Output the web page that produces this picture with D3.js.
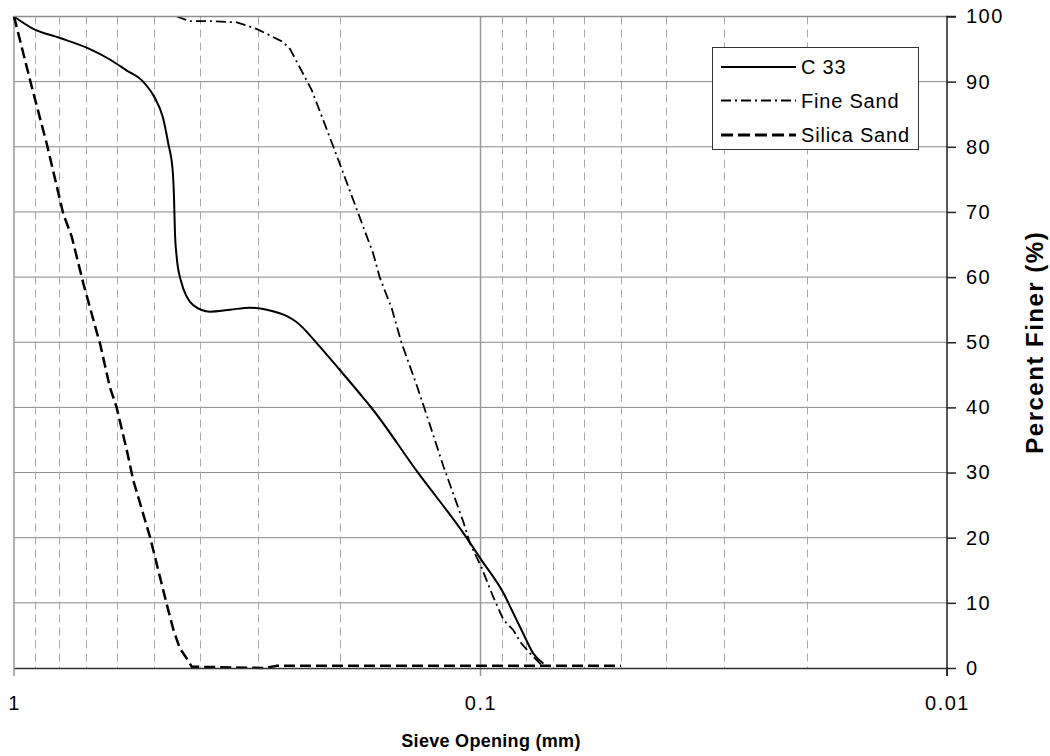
<!DOCTYPE html>
<html>
<head>
<meta charset="utf-8">
<script src="https://cdn.jsdelivr.net/npm/d3@7/dist/d3.min.js"></script>
<style>
  html, body { margin: 0; padding: 0; background: #fff; }
  svg { display: block; }
  text { font-family: "Liberation Sans", Arial, sans-serif; fill: #000; }
</style>
</head>
<body>
<svg id="chart" width="1050" height="756"></svg>
<script>
// Grain-size distribution: sieve opening (mm) vs percent finer (%)
const c33Sieve = [1, 0.909, 0.797, 0.693, 0.623, 0.573, 0.532, 0.5, 0.48, 0.467, 0.457, 0.454, 0.452, 0.448, 0.439, 0.413, 0.38, 0.344, 0.312, 0.287, 0.26, 0.248, 0.224, 0.2, 0.178, 0.172, 0.1359, 0.1088, 0.0996, 0.0893, 0.0857, 0.081, 0.0771, 0.0733];
const c33Finer = [100, 98.1, 96.7, 95.1, 93.4, 91.7, 90.2, 87.6, 84.6, 80.5, 76.4, 72.3, 67.2, 63.1, 59.5, 55.7, 54.7, 55.0, 55.3, 55.0, 54.0, 53.1, 49.8, 45.7, 41.4, 40.1, 29.9, 20.7, 16.6, 11.5, 8.9, 5.3, 2.25, 0.7];

const fineSieve = [0.448, 0.42, 0.38, 0.333, 0.302, 0.265, 0.256, 0.23, 0.2067, 0.1873, 0.1698, 0.1645, 0.155, 0.1475, 0.137, 0.1315, 0.12, 0.1088, 0.1053, 0.0996, 0.0939, 0.0893, 0.085, 0.0818, 0.0783, 0.0741];
const fineFiner = [100, 99.3, 99.3, 99.1, 98.1, 96.1, 95.0, 88.7, 80.0, 71.8, 63.6, 60.0, 55.2, 49.8, 43.4, 39.6, 30.9, 22.4, 19.1, 15.5, 10.9, 7.4, 5.8, 3.8, 2.25, 0.5];

const silicaSieve = [1, 0.916, 0.851, 0.784, 0.752, 0.71, 0.665, 0.654, 0.623, 0.603, 0.573, 0.555, 0.511, 0.471, 0.455, 0.441, 0.4266, 0.416, 0.29, 0.273, 0.05];
const silicaFiner = [100, 89.2, 80.5, 69.7, 66.2, 59.0, 51.6, 49.8, 43.1, 40.1, 33.4, 28.8, 20.1, 9.9, 5.8, 3.0, 1.5, 0.2, 0, 0.35, 0.35];

const xMajorTicks = [1, 0.1, 0.01];
const xTickLabels = ["1", "0.1", "0.01"];
const xMinorTicks = [0.9, 0.8, 0.7, 0.6, 0.5, 0.4, 0.3, 0.2, 0.09, 0.08, 0.07, 0.06, 0.05, 0.04, 0.03, 0.02];
const yTicks = [0, 10, 20, 30, 40, 50, 60, 70, 80, 90, 100];
const seriesNames = ["C 33", "Fine Sand", "Silica Sand"];

const svg = d3.select("#chart");
const plotLeft = 14, plotRight = 947, plotTop = 16.5, plotBottom = 668;

const x = d3.scaleLog().domain([1, 0.01]).range([plotLeft, plotRight]);
const y = d3.scaleLinear().domain([0, 100]).range([plotBottom, plotTop]);

const grid = svg.append("g");

// horizontal gridlines
grid.selectAll("line.h").data(yTicks.filter(v => v > 0)).join("line")
  .attr("x1", plotLeft).attr("x2", plotRight)
  .attr("y1", d => y(d)).attr("y2", d => y(d))
  .attr("stroke", "#888").attr("stroke-width", 1);

// minor vertical gridlines (dashed)
grid.selectAll("line.minor").data(xMinorTicks).join("line")
  .attr("x1", d => Math.round(x(d)) + 0.5).attr("x2", d => Math.round(x(d)) + 0.5)
  .attr("y1", plotTop).attr("y2", plotBottom)
  .attr("stroke", "#a8a8a8").attr("stroke-width", 1)
  .attr("stroke-dasharray", "8,5");

// major vertical gridlines / left frame
grid.selectAll("line.major").data([1, 0.1]).join("line")
  .attr("x1", d => x(d)).attr("x2", d => x(d))
  .attr("y1", plotTop).attr("y2", plotBottom + 8)
  .attr("stroke", "#999").attr("stroke-width", 1.5);

// series lines
const lineLinear = d3.line().x(d => x(d[0])).y(d => y(d[1]));
const lineSmooth = d3.line().x(d => x(d[0])).y(d => y(d[1])).curve(d3.curveMonotoneX);

const plot = svg.append("g");
plot.append("path")
  .datum(silicaSieve.map((s, i) => [s, silicaFiner[i]]))
  .attr("d", lineLinear)
  .attr("fill", "none").attr("stroke", "#000").attr("stroke-width", 2.5)
  .attr("stroke-dasharray", "11,5");

plot.append("path")
  .datum(fineSieve.map((s, i) => [s, fineFiner[i]]))
  .attr("d", lineLinear)
  .attr("fill", "none").attr("stroke", "#000").attr("stroke-width", 1.8)
  .attr("stroke-dasharray", "10,4,2,4");

plot.append("path")
  .datum(c33Sieve.map((s, i) => [s, c33Finer[i]]))
  .attr("d", lineSmooth)
  .attr("fill", "none").attr("stroke", "#000").attr("stroke-width", 2);

// top frame
svg.append("line")
  .attr("x1", plotLeft).attr("x2", plotRight).attr("y1", plotTop).attr("y2", plotTop)
  .attr("stroke", "#8c8c8c").attr("stroke-width", 1.5);

// bottom axis
const xAxis = d3.axisBottom(x).tickValues(xMajorTicks)
  .tickFormat((d, i) => xTickLabels[i]).tickSize(0).tickPadding(0);
const gx = svg.append("g").attr("transform", `translate(0,${plotBottom})`).call(xAxis);
gx.select(".domain").attr("stroke", "#333").attr("stroke-width", 1.5);
gx.selectAll(".tick text")
  .attr("y", 42).attr("dy", 0)
  .style("font-size", "20px").style("letter-spacing", "1.5px");

// tick mark at the right end of the bottom axis
svg.append("line")
  .attr("x1", x(0.01)).attr("x2", x(0.01)).attr("y1", plotBottom).attr("y2", plotBottom + 8)
  .attr("stroke", "#222").attr("stroke-width", 1.5);

// right axis
const yAxis = d3.axisRight(y).tickValues(yTicks).tickSize(9).tickPadding(10);
const gy = svg.append("g").attr("transform", `translate(${plotRight},0)`).call(yAxis);
gy.select(".domain").attr("stroke", "#222").attr("stroke-width", 1.5)
  .attr("d", `M9,${plotTop}H0V${plotBottom + 8}`);
gy.selectAll(".tick line").attr("stroke", "#222").attr("stroke-width", 1.5);
gy.selectAll(".tick text")
  .style("font-size", "20px").style("letter-spacing", "1.5px");

// axis titles
svg.append("text")
  .attr("x", 491).attr("y", 747)
  .attr("text-anchor", "middle")
  .style("font-size", "18px").style("font-weight", "bold").style("letter-spacing", "0.3px")
  .text("Sieve Opening (mm)");

svg.append("text")
  .attr("transform", `translate(1043,${(plotTop + plotBottom) / 2}) rotate(-90)`)
  .attr("text-anchor", "middle")
  .style("font-size", "24px").style("font-weight", "bold").style("letter-spacing", "1.5px")
  .text("Percent Finer (%)");

// legend
const legend = svg.append("g");
legend.append("rect")
  .attr("x", 712.5).attr("y", 47.5).attr("width", 206).attr("height", 102)
  .attr("fill", "#fff").attr("stroke", "#333").attr("stroke-width", 1);

const legendStyles = [
  { w: 2, dash: null },
  { w: 1.8, dash: "10,4,2,4" },
  { w: 3, dash: "12,5" }
];
const rowY = [67, 100.5, 135];
seriesNames.forEach((name, i) => {
  legend.append("line")
    .attr("x1", 721).attr("x2", 796).attr("y1", rowY[i]).attr("y2", rowY[i])
    .attr("stroke", "#000").attr("stroke-width", legendStyles[i].w)
    .attr("stroke-dasharray", legendStyles[i].dash);
  legend.append("text")
    .attr("x", 801).attr("y", rowY[i]).attr("dy", "0.36em")
    .style("font-size", "20px").style("letter-spacing", "0.8px")
    .text(name);
});
</script>
</body>
</html>
